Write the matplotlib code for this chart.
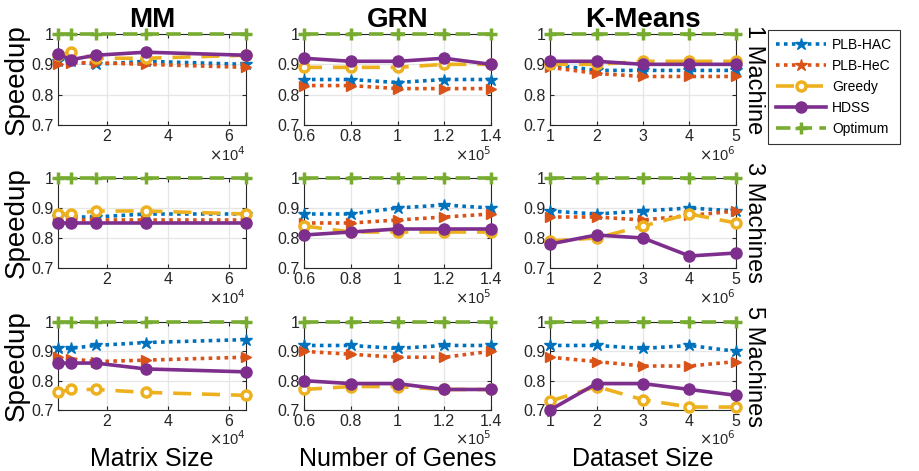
import matplotlib.pyplot as plt
from matplotlib.ticker import FuncFormatter
from matplotlib.lines import Line2D

# ── data ─────────────────────────────────────────────────────────────
MM_X = [4096, 8192, 16384, 32768, 65536]
GRN_X = [0.6e5, 0.8e5, 1.0e5, 1.2e5, 1.4e5]
KM_X = [1e6, 2e6, 3e6, 4e6, 5e6]

COL_TITLES = ["MM", "GRN", "K-Means"]
ROW_LABELS = ["1 Machine", "3 Machines", "5 Machines"]
X_LABELS = ["Matrix Size", "Number of Genes", "Dataset Size"]
SERIES = ["PLB-HAC", "PLB-HeC", "Greedy", "HDSS", "Optimum"]

# 1 machine
mm1_hac = [0.91, 0.91, 0.90, 0.91, 0.90]
mm1_hec = [0.90, 0.905, 0.905, 0.90, 0.89]
mm1_greedy = [0.93, 0.94, 0.92, 0.92, 0.93]
mm1_hdss = [0.935, 0.915, 0.93, 0.94, 0.93]
grn1_hac = [0.85, 0.85, 0.84, 0.85, 0.85]
grn1_hec = [0.83, 0.83, 0.82, 0.82, 0.82]
grn1_greedy = [0.89, 0.89, 0.89, 0.90, 0.90]
grn1_hdss = [0.92, 0.91, 0.91, 0.92, 0.90]
km1_hac = [0.90, 0.88, 0.88, 0.88, 0.88]
km1_hec = [0.89, 0.87, 0.86, 0.86, 0.86]
km1_greedy = [0.90, 0.90, 0.91, 0.91, 0.91]
km1_hdss = [0.91, 0.91, 0.90, 0.90, 0.90]

# 3 machines
mm3_hac = [0.87, 0.87, 0.87, 0.88, 0.88]
mm3_hec = [0.86, 0.86, 0.86, 0.86, 0.86]
mm3_greedy = [0.88, 0.88, 0.89, 0.89, 0.88]
mm3_hdss = [0.85, 0.85, 0.85, 0.85, 0.85]
grn3_hac = [0.88, 0.88, 0.90, 0.91, 0.90]
grn3_hec = [0.85, 0.85, 0.86, 0.87, 0.88]
grn3_greedy = [0.84, 0.82, 0.82, 0.82, 0.82]
grn3_hdss = [0.81, 0.82, 0.83, 0.83, 0.83]
km3_hac = [0.89, 0.88, 0.89, 0.90, 0.89]
km3_hec = [0.87, 0.87, 0.86, 0.875, 0.89]
km3_greedy = [0.79, 0.80, 0.84, 0.88, 0.85]
km3_hdss = [0.78, 0.81, 0.80, 0.74, 0.75]

# 5 machines
mm5_hac = [0.91, 0.91, 0.92, 0.93, 0.94]
mm5_hec = [0.88, 0.875, 0.865, 0.87, 0.88]
mm5_greedy = [0.76, 0.77, 0.77, 0.76, 0.75]
mm5_hdss = [0.86, 0.86, 0.86, 0.84, 0.83]
grn5_hac = [0.92, 0.92, 0.91, 0.92, 0.92]
grn5_hec = [0.90, 0.89, 0.88, 0.88, 0.90]
grn5_greedy = [0.77, 0.78, 0.78, 0.77, 0.77]
grn5_hdss = [0.80, 0.79, 0.79, 0.77, 0.77]
km5_hac = [0.92, 0.92, 0.91, 0.92, 0.90]
km5_hec = [0.88, 0.865, 0.85, 0.85, 0.865]
km5_greedy = [0.73, 0.78, 0.735, 0.71, 0.71]
km5_hdss = [0.70, 0.79, 0.79, 0.77, 0.75]

optimum = [1.0, 1.0, 1.0, 1.0, 1.0]
# ─────────────────────────────────────────────────────────────────────

BLUE, ORANGE, YELLOW = "#0072BD", "#D95319", "#EDB120"
PURPLE, GREEN = "#7E2F8E", "#77AC30"

STYLES = [
    dict(color=BLUE, ls=(0, (1, 1.2)), marker="*", ms=9),
    dict(color=ORANGE, ls=(0, (1, 1.2)), marker=">", ms=7),
    dict(color=YELLOW, ls=(0, (5, 3)), marker="o", ms=6.5, mfc="white", mew=2.5),
    dict(color=PURPLE, ls="-", marker="o", ms=8),
    dict(color=GREEN, ls=(0, (4, 2)), marker="+", ms=9, mew=2.5),
]

grid_data = [
    [(MM_X, [mm1_hac, mm1_hec, mm1_greedy, mm1_hdss, optimum]),
     (GRN_X, [grn1_hac, grn1_hec, grn1_greedy, grn1_hdss, optimum]),
     (KM_X, [km1_hac, km1_hec, km1_greedy, km1_hdss, optimum])],
    [(MM_X, [mm3_hac, mm3_hec, mm3_greedy, mm3_hdss, optimum]),
     (GRN_X, [grn3_hac, grn3_hec, grn3_greedy, grn3_hdss, optimum]),
     (KM_X, [km3_hac, km3_hec, km3_greedy, km3_hdss, optimum])],
    [(MM_X, [mm5_hac, mm5_hec, mm5_greedy, mm5_hdss, optimum]),
     (GRN_X, [grn5_hac, grn5_hec, grn5_greedy, grn5_hdss, optimum]),
     (KM_X, [km5_hac, km5_hec, km5_greedy, km5_hdss, optimum])],
]

W, H = 919, 471
col_lr = [(58, 246), (304, 491), (550, 736)]
row_tb = [(34, 125), (178, 268), (322, 410)]
xlims = [(4096, 65536), (0.6e5, 1.4e5), (1e6, 5e6)]
xticks = [[2e4, 4e4, 6e4], GRN_X, KM_X]
exps = [4, 5, 6]

plt.rcParams["font.family"] = ["Liberation Sans", "DejaVu Sans"]
fig = plt.figure(figsize=(W / 100, H / 100), dpi=100)

for r in range(3):
    for c in range(3):
        l, rr = col_lr[c]
        t, b = row_tb[r]
        ax = fig.add_axes([l / W, 1 - b / H, (rr - l) / W, (b - t) / H])
        xs, ys = grid_data[r][c]
        for y, st in zip(ys, STYLES):
            ax.plot(xs, y, lw=2.6, clip_on=False, zorder=3, **st)
        ax.set_xlim(*xlims[c])
        ax.set_ylim(0.7, 1.0)
        ax.set_yticks([0.7, 0.8, 0.9, 1.0])
        ax.yaxis.set_major_formatter(FuncFormatter(lambda v, p: f"{v:g}"))
        ax.set_xticks(xticks[c])
        e = exps[c]
        ax.xaxis.set_major_formatter(
            FuncFormatter(lambda v, p, e=e: f"{v / 10**e:g}"))
        off_y = -0.215 if r == 2 else -0.22
        ax.text(1.0, off_y, r"$\times$10$^{%d}$" % e, transform=ax.transAxes,
                ha="right", va="top", fontsize=10.5, color="#262626")
        ax.grid(True, color="#e6e6e6", lw=0.9)
        ax.set_axisbelow(True)
        ax.tick_params(direction="in", labelsize=11.5, colors="#262626",
                       length=3, top=True, right=True, pad=3)
        for s in ax.spines.values():
            s.set_color("#262626")
            s.set_linewidth(0.8)
        if c == 0:
            ax.set_ylabel("Speedup", fontsize=20, labelpad=1)
        if r == 0:
            ax.set_title(COL_TITLES[c], fontsize=20, fontweight="bold", pad=5)
        if r == 2:
            ax.set_xlabel(X_LABELS[c], fontsize=18, labelpad=13)
        if c == 2:
            ax.text(1.035, 0.5, ROW_LABELS[r], transform=ax.transAxes,
                    rotation=270, ha="left", va="center", fontsize=17)

handles = [Line2D([], [], lw=2.6, **st) for st in STYLES]
handles[1] = Line2D([], [], lw=2.6, **{**STYLES[1], "marker": "*", "ms": 9})
leg = fig.legend(handles, SERIES, loc="upper left",
                 bbox_to_anchor=(768 / W, 1 - 30 / H), borderaxespad=0,
                 fontsize=10, frameon=True, fancybox=False, edgecolor="black",
                 handlelength=3.6, labelspacing=0.5, borderpad=0.6,
                 handletextpad=0.4)
leg.get_frame().set_linewidth(0.8)

fig.savefig("out.png", dpi=100)
